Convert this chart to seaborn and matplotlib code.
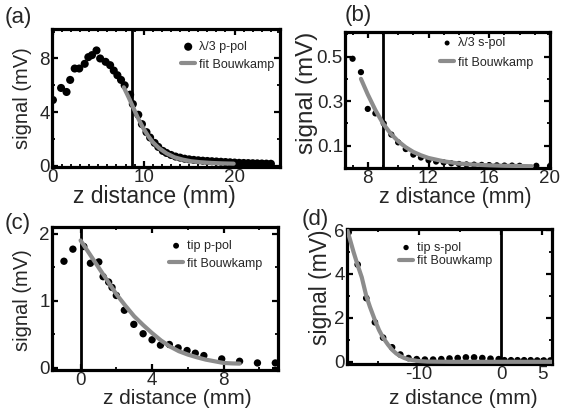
import numpy as np
import pandas as pd
import matplotlib
matplotlib.use("Agg")
import matplotlib.pyplot as plt
from matplotlib.ticker import MultipleLocator, FixedLocator
import seaborn as sns

# ---------------- data ----------------
# (a) lambda/3 p-pol
a_z = [0, 0.9, 1.5, 1.9, 2.4, 2.9, 3.5, 3.9, 4.3, 4.8, 5.2, 5.8, 6.3, 6.7, 7.1, 7.5, 7.9,
       8.5, 8.8, 9.4, 9.8, 10.3, 10.7, 11.2, 11.6, 12.1, 12.5, 13.0, 13.5, 14.0, 14.5,
       15.0, 15.5, 16.0, 16.5, 17.0, 17.5, 18.0, 18.5, 19.0, 19.5, 20.0, 20.5, 21.0,
       21.5, 22.0, 22.5, 23.0, 23.5, 24.0]
a_sig = [4.9, 5.8, 5.5, 6.4, 7.25, 7.25, 7.6, 8.1, 8.25, 8.6, 8.0, 7.75, 7.5, 7.1, 6.75,
         6.4, 6.0, 5.3, 4.6, 3.8, 3.1, 2.5, 2.1, 1.7, 1.4, 1.1, 0.95, 0.8, 0.68, 0.6,
         0.52, 0.47, 0.43, 0.4, 0.37, 0.35, 0.33, 0.31, 0.29, 0.27, 0.25, 0.23, 0.21,
         0.2, 0.19, 0.18, 0.17, 0.16, 0.15, 0.14]
a_fit_z = [7.8, 8.3, 8.8, 9.3, 9.9, 10.5, 11.0, 11.7, 12.5, 13.4, 14.3, 15.2, 16.2, 17.5,
           18.7, 19.9]
a_fit = [5.85, 5.15, 4.4, 3.65, 2.85, 2.2, 1.75, 1.3, 0.92, 0.62, 0.45, 0.33, 0.26, 0.2,
         0.17, 0.15]
a_vline = 8.7

# (b) lambda/3 s-pol
b_z = [7.0, 7.55, 8.0, 8.5, 9.05, 9.55, 10.0, 10.5, 11.0, 11.5, 12.0, 12.5, 13.0, 13.5,
       14.0, 14.5, 15.0, 15.5, 16.0, 16.5, 17.0, 17.5, 18.0, 19.1, 20.0]
b_sig = [0.49, 0.43, 0.265, 0.245, 0.2, 0.15, 0.115, 0.085, 0.06, 0.047, 0.035, 0.029,
         0.025, 0.021, 0.018, 0.016, 0.015, 0.014, 0.013, 0.012, 0.011, 0.011, 0.01,
         0.01, 0.009]
b_fit_z = [7.55, 8.0, 8.5, 9.0, 9.5, 10.0, 10.5, 11.0, 11.5, 12.0, 13.0, 14.0, 15.0,
           16.0, 17.0, 18.0, 18.8]
b_fit = [0.40, 0.33, 0.26, 0.20, 0.155, 0.12, 0.093, 0.072, 0.057, 0.045, 0.03, 0.02,
         0.015, 0.012, 0.01, 0.009, 0.008]
b_vline = 9.0

# (c) tip p-pol
c_z = [-0.93, -0.43, 0.18, 0.55, 1.02, 1.26, 1.57, 1.76, 2.0, 2.45, 2.98, 3.5, 4.0,
       4.47, 4.97, 5.46, 5.96, 6.42, 6.9, 7.9, 8.9, 9.9, 10.9]
c_sig = [1.59, 1.77, 1.81, 1.56, 1.58, 1.36, 1.28, 1.2, 1.08, 0.86, 0.65, 0.51, 0.42,
         0.34, 0.35, 0.3, 0.26, 0.22, 0.185, 0.135, 0.1, 0.075, 0.075]
c_fit_z = [0, 0.5, 1.0, 1.5, 2.0, 2.5, 3.0, 3.5, 4.0, 4.5, 5.0, 5.5, 6.0, 6.5, 7.0, 7.5,
           8.0, 8.5, 8.9]
c_fit = [1.9, 1.7, 1.5, 1.3, 1.1, 0.93, 0.77, 0.64, 0.52, 0.41, 0.32, 0.25, 0.2, 0.16,
         0.125, 0.1, 0.075, 0.068, 0.065]
c_vline = 0.0

# (d) tip s-pol
d_z = [-18.6, -17.5, -16.45, -15.4, -14.4, -13.3, -12.3, -11.3, -10.3, -9.3, -8.3, -7.3,
       -6.3, -5.3, -4.3, -3.3, -2.3, -1.3, -0.3, 0.4, 1.2, 2.0, 2.8, 3.6, 4.4, 5.2, 6.0]
d_sig = [5.9, 4.43, 2.9, 1.8, 1.1, 0.66, 0.33, 0.17, 0.12, 0.1, 0.1, 0.12, 0.15, 0.17,
         0.2, 0.2, 0.17, 0.14, 0.12, 0.07, 0.07, 0.07, 0.07, 0.07, 0.06, 0.06, 0.06]
d_fit_z = [-18.8, -18.0, -17.5, -17.0, -16.45, -16.0, -15.4, -14.9, -14.4, -13.8, -13.3,
           -12.8, -12.3, -11.8, -11.3, -10.2, -9.0, -6.0, 0.0, 6.2]
d_fit = [6.05, 5.0, 4.4, 3.85, 3.0, 2.5, 1.9, 1.45, 1.1, 0.78, 0.55, 0.38, 0.26, 0.17,
         0.11, 0.04, 0.01, 0.0, 0.0, 0.0]
d_vline = 0.0

labels_data = ["\u03bb/3 p-pol", "\u03bb/3 s-pol", "tip p-pol", "tip s-pol"]
label_fit = "fit Bouwkamp"
panel_tags = ["(a)", "(b)", "(c)", "(d)"]
x_label = "z distance (mm)"
y_label = "signal (mV)"

# ---------------- style ----------------
sns.set_theme(style="white")
plt.rcParams["font.family"] = ["Liberation Sans", "DejaVu Sans"]

W, H = 565, 413
fig = plt.figure(figsize=(W / 100, H / 100), dpi=100)
fig.patch.set_facecolor("white")


def px_axes(l, t, r, b):
    return fig.add_axes([l / W, (H - b) / H, (r - l) / W, (b - t) / H])


GREY = "#8c8c8c"

# xlab given as (x axes-frac, label centre in pixels below the bottom spine)
panels = [
    dict(box=(52, 29, 280, 167), z=a_z, s=a_sig, fz=a_fit_z, fs=a_fit, vl=a_vline,
         xlim=(-0.1, 25.0), ylim=(-0.1, 10.2), xmaj=[0, 10, 20], xmin=1,
         ymaj=[0, 4, 8], ymin=2, ms=34, legfs=9, leg=(0.974, 0.913), legsp=0.45,
         mscale=1.0, xlab=(0.45, 30), ylab=(-0.13, 0.5), xls=16.5, yls=14.5,
         tag=(5, 17)),
    dict(box=(345, 32, 550, 168), z=b_z, s=b_sig, fz=b_fit_z, fs=b_fit, vl=b_vline,
         xlim=(6.5, 20.0), ylim=(0.0, 0.61), xmaj=[8, 12, 16, 20], xmin=1,
         ymaj=[0.1, 0.3, 0.5], ymin=0.1, ms=20, legfs=9, leg=(0.917, 0.961), legsp=0.6,
         mscale=0.8, xlab=(0.54, 29), ylab=(-0.185, 0.554), xls=15.5, yls=17.5,
         tag=(345, 16)),
    dict(box=(52, 227, 278, 370), z=c_z, s=c_sig, fz=c_fit_z, fs=c_fit, vl=c_vline,
         xlim=(-1.6, 11.05), ylim=(-0.03, 2.1), xmaj=[0, 4, 8], xmin=2,
         ymaj=[0, 1, 2], ymin=0.5, ms=28, legfs=9, leg=(0.929, 0.909), legsp=0.45,
         mscale=0.8, xlab=(0.555, 28), ylab=(-0.13, 0.49), xls=15, yls=14.5,
         tag=(5, 223)),
    dict(box=(347, 229, 552, 364), z=d_z, s=d_sig, fz=d_fit_z, fs=d_fit, vl=d_vline,
         xlim=(-18.8, 6.2), ylim=(-0.1, 6.05), xmaj=[-10, 0, 5], xmin=5,
         ymaj=[0, 2, 4, 6], ymin=1, ms=23, legfs=9, leg=(0.707, 0.905), legsp=0.1,
         mscale=0.8, xlab=(0.566, 34), ylab=(-0.127, 0.567), xls=15, yls=16.5,
         tag=(302, 219)),
]

for i, p in enumerate(panels):
    ax = px_axes(*p["box"])
    hpx = p["box"][3] - p["box"][1]
    ax.set_facecolor("white")
    ax.axvline(p["vl"], color="black", lw=2.0, zorder=1)
    sns.scatterplot(x=p["z"], y=p["s"], ax=ax, color="black", s=p["ms"],
                    edgecolor="none", linewidth=0, label=labels_data[i], zorder=2)
    sns.lineplot(x=p["fz"], y=p["fs"], ax=ax, color=GREY, lw=3.0, label=label_fit,
                 zorder=3, estimator=None, sort=False)
    ax.set_xlim(*p["xlim"])
    ax.set_ylim(*p["ylim"])
    ax.xaxis.set_major_locator(FixedLocator(p["xmaj"]))
    ax.yaxis.set_major_locator(FixedLocator(p["ymaj"]))
    ax.xaxis.set_minor_locator(MultipleLocator(p["xmin"]))
    ax.yaxis.set_minor_locator(MultipleLocator(p["ymin"]))
    ax.set_xticklabels(["{:g}".format(v) for v in p["xmaj"]])
    ax.set_yticklabels(["{:g}".format(v) for v in p["ymaj"]])
    ax.tick_params(which="both", direction="in", top=True, right=True,
                   bottom=True, left=True, color="black")
    ax.tick_params(which="major", length=4.5, width=1.6, labelsize=13.5, pad=1.5)
    ax.tick_params(which="minor", length=2.5, width=1.3)
    ax.tick_params(axis="y", which="major", pad=1.5)
    for sp in ax.spines.values():
        sp.set_visible(True)
        sp.set_color("black")
        sp.set_linewidth(2.3)
    ax.set_xlabel(x_label, fontsize=p["xls"], va="center", ha="center")
    ax.set_ylabel(y_label, fontsize=p["yls"], va="center", ha="center")
    ax.xaxis.set_label_coords(p["xlab"][0], -p["xlab"][1] / hpx)
    ax.yaxis.set_label_coords(*p["ylab"])
    ax.legend(loc="upper right", bbox_to_anchor=p["leg"], frameon=False,
              borderpad=0, borderaxespad=0, handlelength=1.1, handletextpad=0.3,
              labelspacing=p["legsp"], fontsize=p["legfs"], markerscale=p["mscale"])
    fig.text(p["tag"][0] / W, 1 - p["tag"][1] / H, panel_tags[i], fontsize=16,
             ha="left", va="center")

fig.savefig("out.png", dpi=100, facecolor="white")
